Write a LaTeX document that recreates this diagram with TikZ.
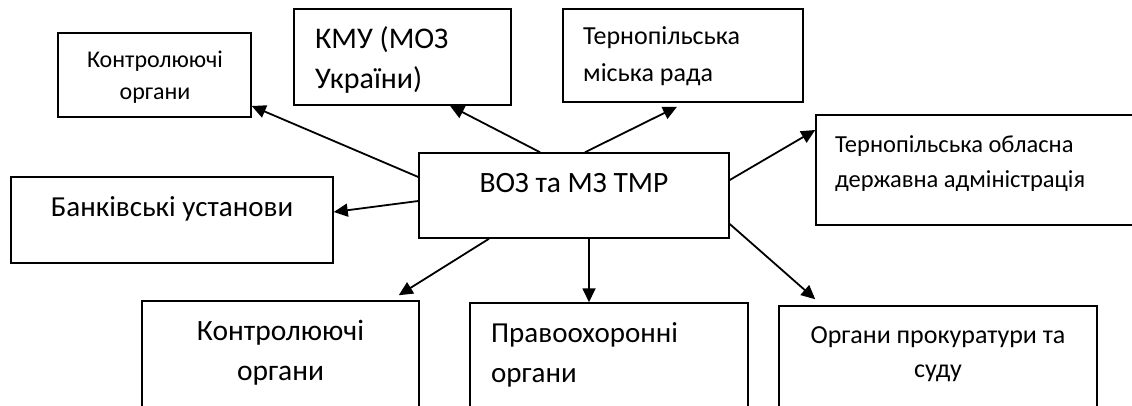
\documentclass[tikz,border=0pt]{standalone}
\usepackage{fontspec}
\setmainfont{Carlito}
\usetikzlibrary{arrows.meta,positioning}

\begin{document}
\begin{tikzpicture}[
    x=1pt, y=-1pt,
    box/.style 2 args={draw, rectangle, line width=1.5pt, minimum width=#1, minimum height=#2, inner sep=0pt},
    txt/.style 2 args={inner sep=0pt, anchor=base, font=\fontsize{#1}{#2}\selectfont},
    arrow/.style={-{Triangle[length=14pt,width=13pt]}, line width=1.8pt}
]
    \useasboundingbox (0,0) rectangle (1132,406);
    \clip (0,0) rectangle (1132,406);

    % Centre
    \node[box={310pt}{85pt}] (centre) at (574,195.5) {};
    \node[txt={29.5}{36}] (centre-t) at (574,193) {ВОЗ та МЗ ТМР};

    % Upper row (base = last line)
    \node[box={193pt}{84pt}] (ctrlA) at (154.5,75) {};
    \node[txt={24}{32}, align=center] (ctrlA-t) at (155,100) {Контролюючі\\органи};
    \node[box={217pt}{96pt}] (kmu) at (402.5,57) {};
    \node[txt={30}{40}, anchor=base west, align=left] (kmu-t) at (315,89) {КМУ (МОЗ\\України)};
    \node[box={240pt}{93pt}] (city) at (683,55.5) {};
    \node[txt={26}{37}, anchor=base west, align=left] (city-t) at (583,82) {Тернопільська\\міська рада};

    % Side boxes
    \node[box={322pt}{86pt}] (bank) at (172,220) {};
    \node[txt={29}{36}] (bank-t) at (172,217) {Банківські установи};
    \node[box={324pt}{110pt}] (oblast) at (978,170) {};
    \node[txt={24.5}{35}, anchor=base west, align=left] (oblast-t) at (835,188) {Тернопільська обласна\\державна адміністрація};

    % Lower row
    \node[box={277pt}{119pt}] (ctrlB) at (280.5,360.5) {};
    \node[txt={29.5}{40}, align=center] (ctrlB-t) at (280.5,380) {Контролюючі\\органи};
    \node[box={278pt}{117pt}] (pravo) at (609,361.5) {};
    \node[txt={29}{40}, anchor=base west, align=left] (pravo-t) at (491,382) {Правоохоронні\\органи};
    \node[box={318pt}{114pt}] (prok) at (938,363) {};
    \node[txt={26}{34}, align=center] (prok-t) at (938,377) {Органи прокуратури та\\суду};

    % Arrows
    \draw[arrow] ([yshift=18.5pt]centre.west) -- ([yshift=-31pt]ctrlA.east);
    \draw[arrow] ([xshift=-34pt]centre.north) -- ([xshift=47.5pt]kmu.south);
    \draw[arrow] ([xshift=11pt]centre.north) -- ([xshift=-6pt,yshift=-4pt]city.south);
    \draw[arrow] ([yshift=15.5pt]centre.east) -- ([yshift=40pt]oblast.west);
    \draw[arrow] ([yshift=-5.5pt]centre.west) -- ([yshift=8pt]bank.east);
    \draw[arrow] ([xshift=-85pt]centre.south) -- ([xshift=-21pt,yshift=5pt]ctrlB.north east);
    \draw[arrow] ([xshift=15pt,yshift=1pt]centre.south) -- ([xshift=-20pt]pravo.north);
    \draw[arrow] ([yshift=-28.5pt]centre.east) -- ([xshift=37pt,yshift=6pt]prok.north west);
\end{tikzpicture}
\end{document}
